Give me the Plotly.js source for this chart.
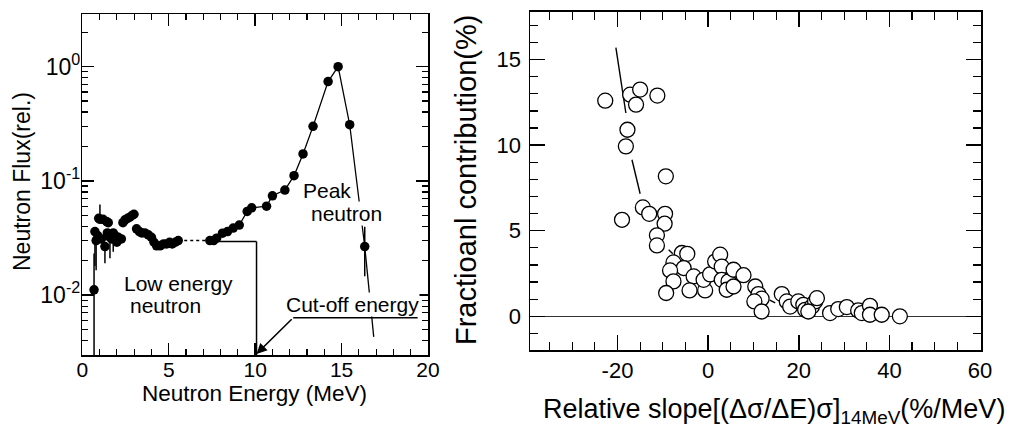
<!DOCTYPE html>
<html><head><meta charset="utf-8">
<script src="https://cdn.plot.ly/plotly-3.0.1.min.js"></script>
<style>html,body{margin:0;padding:0;background:#fff}#chart{width:1019px;height:428px}</style>
</head><body><div id="chart"></div>
<script>
// ---------- Left panel: neutron spectrum ----------
const lowEnergy = [0.68, 0.73, 0.80, 0.90, 0.95, 1.02, 1.10, 1.20, 1.31, 1.41, 1.45, 1.50, 1.60, 1.70, 1.79, 1.90, 2.00, 2.08, 2.26, 2.35, 2.47, 2.62, 2.75, 2.90, 2.99, 3.14, 3.30, 3.44, 3.62, 3.82, 4.00, 4.15, 4.30, 4.50, 4.70, 4.88, 5.05, 5.20, 5.38, 5.55];
const lowFlux = [0.0111, 0.036, 0.030, 0.033, 0.047, 0.046, 0.031, 0.046, 0.0266, 0.044, 0.035, 0.043, 0.032, 0.031, 0.035, 0.033, 0.029, 0.032, 0.031, 0.043, 0.0456, 0.047, 0.048, 0.050, 0.051, 0.038, 0.036, 0.035, 0.035, 0.0337, 0.032, 0.029, 0.027, 0.027, 0.028, 0.028, 0.029, 0.028, 0.029, 0.030];
const lowErrPlus = [0.012, 0, 0, 0, 0, 0.016, 0, 0, 0, 0, 0, 0, 0, 0, 0, 0, 0, 0, 0, 0, 0, 0, 0, 0, 0, 0, 0, 0, 0, 0, 0, 0, 0, 0, 0, 0, 0, 0, 0, 0];
const lowErrMinus = [0, 0.018, 0.0135, 0, 0, 0, 0, 0, 0.0076, 0, 0, 0, 0.011, 0, 0.011, 0, 0, 0, 0, 0, 0, 0, 0, 0, 0, 0, 0, 0, 0, 0, 0, 0, 0, 0, 0, 0, 0, 0, 0, 0];
const highEnergy = [7.38, 7.60, 7.77, 8.11, 8.40, 8.73, 9.08, 9.54, 9.80, 10.66, 11.00, 11.72, 12.25, 12.77, 13.35, 14.22, 14.80, 15.47, 16.34];
const highFlux = [0.030, 0.030, 0.0315, 0.0348, 0.036, 0.0386, 0.041, 0.054, 0.058, 0.060, 0.074, 0.083, 0.111, 0.172, 0.30, 0.74, 1.0, 0.31, 0.0266];
const highErrPlus = [0, 0, 0, 0, 0, 0, 0, 0, 0, 0, 0, 0, 0, 0, 0, 0, 0, 0, 0.013];
const highErrMinus = [0, 0, 0, 0, 0, 0, 0, 0, 0, 0, 0, 0, 0, 0, 0, 0, 0, 0, 0.012];
const tailEnergy = [16.34, 16.86];
const tailFlux = [0.0266, 0.0043];
const lowRegionTopFlux = 0.0294;
const lowRegionStart = 0.68, lowRegionEnd = 10.08, lowRegionBoxStart = 7.28;
const cutoffEnergy = 10.08;
const leftXTicks = [0, 5, 10, 15, 20];
const leftYTicks = [0.01, 0.1, 1];
const leftYTickText = ['10<sup>-2</sup>', '10<sup>-1</sup>', '10<sup>0</sup>'];

// ---------- Right panel: fractional contribution ----------
const slope = [-22.7, -17.2, -15.0, -15.9, -11.2, -17.8, -18.15, -9.33, -14.4, -13.0, -19.0, -9.5, -9.6, -11.3, -11.3, -5.8, -4.6, -7.65, -5.4, -8.4, -7.65, -3.2, -9.26, -4.1, -0.66, -1.0, 0.44, 1.54, 2.65, 3.0, 3.0, 4.5, 4.1, 5.6, 5.6, 7.8, 10.4, 11.1, 11.8, 10.2, 11.8, 16.25, 17.35, 18.1, 19.9, 21.0, 21.4, 22.9, 23.6, 24.0, 22.1, 26.9, 28.7, 30.6, 33.1, 33.9, 35.7, 35.7, 38.3, 42.3];
const contribution = [12.6, 12.95, 13.25, 12.37, 12.9, 10.9, 9.93, 8.18, 6.36, 5.99, 5.64, 5.99, 5.41, 4.73, 4.14, 3.7, 3.65, 3.15, 2.82, 2.68, 2.04, 2.33, 1.36, 1.51, 1.51, 2.13, 2.45, 3.2, 3.6, 2.9, 2.13, 2.04, 1.55, 2.72, 1.74, 2.4, 1.74, 1.3, 1.03, 0.87, 0.28, 1.3, 0.87, 0.57, 0.87, 0.67, 0.38, 0.57, 0.87, 1.06, 0.28, 0.19, 0.42, 0.54, 0.34, 0.19, 0.61, 0.09, 0.09, 0.0];
const fitSlope = [-20.35, -18.15, null, -16.8, -15.0, null, -8.7, -7.8, null, 13.6, 14.8];
const fitContribution = [15.7, 11.88, null, 9.15, 7.16, null, 3.89, 3.65, null, 0.95, 0.78];
const rightXTicks = [-20, 0, 20, 40, 60];
const rightXTickText = ['-20', '0', '20', '40', '60'];
const rightYTicks = [0, 5, 10, 15];

const F = 'Liberation Sans, Arial, Helvetica, sans-serif';
const W = 1019, H = 428;
const px = v => v / W, py = v => 1 - v / H;

// minor tick positions for the log axis
const logMinor = [];
for (let d = -3; d <= 0; d++) for (let m = 2; m <= 9; m++) logMinor.push(m * Math.pow(10, d));

const traces = [
  { x: lowEnergy, y: lowFlux, type: 'scatter', mode: 'markers', xaxis: 'x', yaxis: 'y',
    marker: { color: 'black', size: 9.5 },
    error_y: { type: 'data', symmetric: false, array: lowErrPlus, arrayminus: lowErrMinus, width: 0, thickness: 1.5, color: 'black' } },
  { x: [lowEnergy[lowEnergy.length - 1], highEnergy[0]], y: [lowFlux[lowFlux.length - 1], highFlux[0]],
    type: 'scatter', mode: 'lines', xaxis: 'x', yaxis: 'y', line: { color: 'black', width: 1.5, dash: 'dot' } },
  { x: highEnergy, y: highFlux, type: 'scatter', mode: 'lines+markers', xaxis: 'x', yaxis: 'y',
    line: { color: 'black', width: 1.3 }, marker: { color: 'black', size: 9.5 },
    error_y: { type: 'data', symmetric: false, array: highErrPlus, arrayminus: highErrMinus, width: 0, thickness: 1.5, color: 'black' } },
  { x: tailEnergy, y: tailFlux, type: 'scatter', mode: 'lines', xaxis: 'x', yaxis: 'y', line: { color: 'black', width: 1.3 } },
  { x: fitSlope, y: fitContribution, type: 'scatter', mode: 'lines', xaxis: 'x2', yaxis: 'y2', connectgaps: false,
    line: { color: 'black', width: 1.4 } },
  { x: slope, y: contribution, type: 'scatter', mode: 'markers', xaxis: 'x2', yaxis: 'y2',
    marker: { symbol: 'circle', size: 15, color: 'white', line: { color: 'black', width: 1.3 } } }
];

const axBase = {
  showline: true, linecolor: 'black', linewidth: 1.5, mirror: 'allticks', ticks: 'inside',
  tickcolor: 'black', tickwidth: 1.5, showgrid: false, zeroline: false,
  tickfont: { family: F, size: 21, color: 'black' }
};

const layout = {
  width: W, height: H, margin: { l: 0, r: 0, t: 0, b: 0 },
  paper_bgcolor: 'white', plot_bgcolor: 'white', showlegend: false,
  font: { family: F, color: 'black' },
  xaxis: Object.assign({}, axBase, {
    domain: [px(82.3), px(428)], range: [0, 20], anchor: 'y', tickmode: 'array', tickvals: leftXTicks, ticklen: 12,
    ticklabelstandoff: -5,
    minor: { dtick: 1, tick0: 0, ticks: 'inside', ticklen: 6, tickwidth: 1.2, tickcolor: 'black', showgrid: false }
  }),
  yaxis: Object.assign({}, axBase, {
    domain: [py(355), py(14)], type: 'log', range: [-2.525, 0.461], anchor: 'x', tickmode: 'array',
    tickvals: leftYTicks, ticktext: leftYTickText, ticklen: 12, ticklabelstandoff: -4,
    tickfont: { family: F, size: 23, color: 'black' },
    minor: { tickmode: 'array', tickvals: logMinor, ticks: 'inside', ticklen: 6, tickwidth: 1.2, tickcolor: 'black', showgrid: false }
  }),
  xaxis2: Object.assign({}, axBase, {
    domain: [px(530), px(981)], range: [-39.3, 60.2], anchor: 'y2', tickmode: 'array', tickvals: rightXTicks,
    ticktext: rightXTickText, ticklen: 15,
    tickfont: { family: F, size: 22, color: 'black' },
    minor: { dtick: 5, tick0: 0, ticks: 'inside', ticklen: 8, tickwidth: 1.2, tickcolor: 'black', showgrid: false }
  }),
  yaxis2: Object.assign({}, axBase, {
    domain: [py(350), py(11.7)], range: [-1.97, 17.8], anchor: 'x2', tickmode: 'array', tickvals: rightYTicks, ticklen: 15,
    tickfont: { family: F, size: 22, color: 'black' }, ticklabelstandoff: 3,
    zeroline: true, zerolinecolor: '#333', zerolinewidth: 1.3,
    minor: { dtick: 1, tick0: 0, ticks: 'inside', ticklen: 8, tickwidth: 1.2, tickcolor: 'black', showgrid: false }
  }),
  shapes: [
    { type: 'line', xref: 'x', yref: 'y', x0: lowRegionStart, x1: lowRegionStart, y0: 0.002985, y1: lowFlux[0], line: { color: 'black', width: 1.5 } },
    { type: 'line', xref: 'x', yref: 'y', x0: lowRegionBoxStart, x1: lowRegionEnd, y0: lowRegionTopFlux, y1: lowRegionTopFlux, line: { color: 'black', width: 1.5 } },
    { type: 'line', xref: 'x', yref: 'y', x0: lowRegionEnd, x1: lowRegionEnd, y0: lowRegionTopFlux, y1: 0.002985, line: { color: 'black', width: 1.5 } },
    { type: 'line', xref: 'x', yref: 'y', x0: 12.2, x1: 19.4, y0: 0.00633, y1: 0.00633, line: { color: 'black', width: 1.5 } }
  ],
  annotations: [
    { xref: 'x', yref: 'y', x: cutoffEnergy, y: Math.log10(0.00305), axref: 'x', ayref: 'y', ax: 12.2, ay: Math.log10(0.00633),
      text: '', showarrow: true, arrowhead: 2, arrowsize: 1.3, arrowwidth: 1.6, arrowcolor: 'black', standoff: 0 },
    { xref: 'paper', yref: 'paper', x: px(121.7), y: py(283), xanchor: 'left', yanchor: 'middle', showarrow: false,
      text: 'Low energy', font: { family: F, size: 21, color: 'black' } },
    { xref: 'paper', yref: 'paper', x: px(128.3), y: py(305), xanchor: 'left', yanchor: 'middle', showarrow: false,
      text: 'neutron', font: { family: F, size: 21, color: 'black' } },
    { xref: 'paper', yref: 'paper', x: px(302), y: py(190), xanchor: 'left', yanchor: 'middle', showarrow: false, bgcolor: 'white', borderpad: 0,
      text: 'Peak', font: { family: F, size: 21, color: 'black' } },
    { xref: 'paper', yref: 'paper', x: px(310), y: py(213), xanchor: 'left', yanchor: 'middle', showarrow: false, bgcolor: 'white', borderpad: 0,
      text: 'neutron', font: { family: F, size: 21, color: 'black' } },
    { xref: 'paper', yref: 'paper', x: px(285), y: py(304), xanchor: 'left', yanchor: 'middle', showarrow: false, bgcolor: 'white', borderpad: 0,
      text: 'Cut-off energy', font: { family: F, size: 21, color: 'black' } },
    { xref: 'paper', yref: 'paper', x: px(255), y: py(393), xanchor: 'center', yanchor: 'middle', showarrow: false, borderpad: 0,
      text: 'Neutron Energy (MeV)', font: { family: F, size: 22.5, color: 'black' } },
    { xref: 'paper', yref: 'paper', x: px(22), y: py(182), xanchor: 'center', yanchor: 'middle', showarrow: false, textangle: -90,
      text: 'Neutron Flux(rel.)', font: { family: F, size: 23, color: 'black' } },
    { xref: 'paper', yref: 'paper', x: px(774), y: py(411), xanchor: 'center', yanchor: 'middle', showarrow: false,
      text: 'Relative slope[(Δσ/ΔE)σ]<sub>14MeV</sub>(%/MeV)', font: { family: F, size: 27, color: 'black' } },
    { xref: 'paper', yref: 'paper', x: px(466), y: py(180), xanchor: 'center', yanchor: 'middle', showarrow: false, textangle: -90,
      text: 'Fractioanl contribution(%)', font: { family: F, size: 29, color: 'black' } }
  ]
};

Plotly.newPlot('chart', traces, layout, { staticPlot: true, displayModeBar: false });
</script>
</body></html>
